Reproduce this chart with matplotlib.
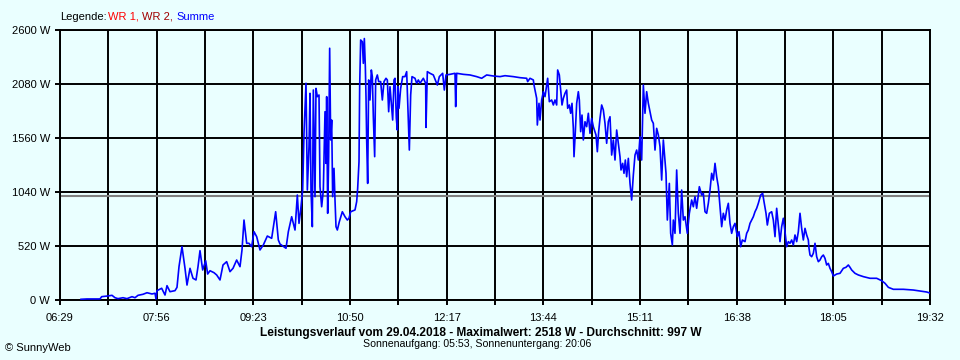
import matplotlib
matplotlib.use("Agg")
import matplotlib.pyplot as plt

# ---- data (time in minutes since midnight, power in W) ----
minutes = [
    407.9, 413.3, 425.0, 426.5, 432.2, 435.8, 438.5, 441.2, 445.7, 449.3,
    453.8, 456.5, 459.2, 463.7, 467.3, 471.8, 474.5, 475.4, 476.3, 480.5,
    483.5, 485.3, 488.0, 492.5, 494.3, 496.1, 498.8, 501.5, 503.3, 506.0,
    508.7, 511.4, 513.2, 515.0, 517.4, 520.1, 521.9, 524.0, 527.6, 530.0,
    533.0, 535.7, 539.0, 542.0, 544.7, 548.0, 551.0, 552.8, 554.6, 557.0,
    559.1, 561.5, 563.6, 566.0, 569.0, 572.0, 575.6, 579.5, 583.1, 585.5,
    587.0, 592.4, 594.5, 597.5, 600.5, 602.6, 604.1, 605.6, 607.4, 608.6,
    610.4, 611.6, 613.1, 614.0, 614.9, 616.1, 617.0, 618.5, 619.4, 620.6,
    622.1, 623.0, 624.5, 626.0, 627.5, 628.4, 629.0, 629.9, 630.8, 631.7,
    632.6, 633.5, 634.4, 635.6, 636.5, 637.4, 638.6, 640.4, 643.1, 645.5,
    647.6, 649.1, 650.6, 654.5, 656.0, 656.9, 658.1, 658.7, 659.6, 661.1,
    662.0, 662.9, 663.8, 664.4, 665.0, 665.9, 666.8, 668.0, 669.2, 670.1,
    671.0, 672.2, 673.1, 674.6, 675.8, 677.6, 679.1, 680.6, 682.4, 683.6,
    684.8, 686.0, 687.5, 688.4, 689.6, 690.5, 691.7, 692.6, 693.2, 694.1,
    695.6, 697.4, 699.5, 701.0, 702.5, 703.4, 704.6, 705.8, 708.5, 710.0,
    711.5, 713.0, 716.0, 718.1, 718.4, 719.6, 722.0, 725.0, 728.6, 730.4,
    733.4, 734.9, 736.4, 740.0, 744.5, 745.1, 746.0, 752.0, 758.0, 764.0,
    768.5, 773.0, 779.0, 785.0, 789.5, 797.0, 803.0, 809.0, 809.9, 812.0,
    815.0, 815.6, 816.5, 818.0, 818.6, 820.1, 821.0, 822.5, 824.0, 825.5,
    827.0, 827.9, 829.4, 831.5, 833.0, 834.5, 836.0, 836.9, 838.4, 839.6,
    840.8, 842.0, 843.5, 845.0, 845.9, 847.4, 848.6, 849.8, 851.0, 851.6,
    852.8, 854.0, 855.5, 856.4, 857.6, 858.8, 860.0, 861.5, 863.0, 864.5,
    866.0, 867.5, 869.0, 871.4, 872.6, 873.8, 875.0, 876.5, 878.0, 879.5,
    881.0, 882.5, 884.0, 885.5, 887.0, 888.5, 890.0, 891.5, 893.0, 893.9,
    895.4, 896.6, 897.8, 899.0, 900.5, 902.0, 903.5, 905.0, 906.5, 908.0,
    909.5, 911.0, 912.5, 914.0, 915.5, 917.0, 918.5, 920.0, 921.5, 923.0,
    924.5, 926.0, 927.5, 929.0, 930.5, 932.0, 933.5, 934.4, 935.6, 937.4,
    938.6, 940.1, 941.0, 942.5, 944.0, 945.5, 947.0, 948.5, 950.0, 951.5,
    953.6, 955.4, 957.5, 959.0, 960.5, 962.0, 964.4, 966.5, 968.0, 969.5,
    971.0, 972.5, 974.0, 975.5, 977.0, 978.5, 980.0, 981.5, 983.0, 984.5,
    986.0, 987.5, 989.0, 990.5, 992.0, 993.5, 995.0, 996.5, 998.6, 1000.1,
    1001.6, 1003.1, 1005.5, 1007.0, 1008.5, 1010.0, 1011.5, 1013.0, 1014.5, 1016.0,
    1017.5, 1019.6, 1021.4, 1022.6, 1024.4, 1025.6, 1027.4, 1029.5, 1031.0, 1032.5,
    1034.0, 1035.5, 1037.0, 1038.5, 1040.0, 1041.5, 1043.0, 1044.5, 1046.0, 1047.5,
    1049.0, 1050.5, 1052.0, 1053.5, 1055.0, 1056.5, 1058.0, 1059.5, 1061.0, 1062.5,
    1063.1, 1064.0, 1065.5, 1067.0, 1068.5, 1070.0, 1071.5, 1073.0, 1074.5, 1076.0,
    1077.5, 1079.0, 1080.5, 1082.0, 1083.5, 1085.0, 1088.0, 1091.0, 1094.0, 1096.4,
    1098.5, 1100.0, 1101.5, 1104.5, 1107.5, 1112.0, 1118.0, 1124.0, 1128.5, 1131.5,
    1134.5, 1139.0, 1148.0, 1157.0, 1163.0, 1169.0, 1172.0,
]
watts = [
    7, 10, 10, 32, 39, 45, 22, 13, 22, 13,
    32, 22, 45, 55, 70, 58, 65, 10, 90, 113,
    48, 138, 80, 90, 122, 321, 513, 305, 144, 305,
    209, 193, 321, 475, 289, 378, 250, 282, 263, 241,
    193, 337, 369, 273, 305, 385, 321, 482, 770, 546,
    546, 513, 658, 610, 482, 530, 616, 594, 850, 578,
    539, 498, 658, 802, 674, 1011, 738, 867, 1059, 1605,
    2087, 1059, 1477, 1990, 1059, 706, 2022, 995, 2038, 1958,
    1974, 1091, 898, 1059, 1813, 1316, 1958, 835, 1380, 2424,
    1541, 1733, 995, 1268, 963, 706, 674, 754, 850, 802,
    770, 787, 850, 867, 947, 1075, 1332, 2054, 2504, 2487,
    2279, 2518, 2247, 1958, 1541, 1123, 2119, 1926, 2215, 2151,
    1765, 1380, 2119, 2167, 2103, 2103, 1926, 2103, 2135, 2119,
    1813, 2054, 1846, 1733, 2119, 2135, 1749, 1637, 2054, 1846,
    2038, 2151, 2151, 2199, 1717, 1444, 1974, 2151, 2135, 2087,
    2119, 2087, 2135, 2087, 1662, 2199, 2183, 2167, 2070, 2151,
    2183, 2022, 2167, 2173, 2183, 1862, 2183, 2173, 2167, 2151,
    2135, 2167, 2157, 2151, 2160, 2151, 2141, 2135, 2103, 2135,
    2119, 2070, 2022, 1942, 1685, 1894, 1733, 1926, 2006, 1958,
    2070, 2135, 1910, 1926, 1878, 1926, 1878, 2215, 2167, 2022,
    1878, 1942, 1990, 2022, 1846, 1878, 1798, 1894, 1653, 1380,
    1621, 1894, 2006, 1926, 1621, 1781, 1541, 1717, 1669, 1798,
    1605, 1749, 1669, 1589, 1428, 1621, 1749, 1878, 1830, 1701,
    1509, 1717, 1765, 1396, 1541, 1348, 1637, 1509, 1380, 1252,
    1316, 1220, 1348, 1187, 1364, 1123, 963, 1204, 1396, 1444,
    1348, 1573, 1348, 2070, 1798, 2006, 1894, 1813, 1733, 1701,
    1444, 1653, 1589, 1477, 1155, 1541, 1348, 1220, 770, 1123,
    642, 530, 770, 642, 1252, 835, 642, 1059, 770, 802,
    642, 835, 963, 898, 995, 883, 1091, 1011, 1027, 850,
    835, 931, 1059, 1220, 1155, 1316, 1187, 1091, 898, 706,
    835, 770, 867, 931, 738, 642, 706, 738, 610, 658,
    513, 578, 562, 642, 674, 738, 770, 802, 850, 883,
    931, 1011, 1027, 947, 835, 722, 835, 850, 770, 610,
    883, 722, 562, 706, 787, 658, 513, 562, 546, 578,
    530, 626, 562, 658, 835, 690, 578, 690, 626, 578,
    498, 433, 417, 450, 546, 417, 369, 385, 417, 433,
    401, 337, 353, 305, 273, 231, 250, 257, 305, 315,
    337, 315, 289, 257, 241, 225, 209, 209, 186, 161,
    122, 103, 103, 96, 87, 77, 67,
]
average_w = 997
y_ticks = [0, 520, 1040, 1560, 2080, 2600]
y_labels = ["0 W", "520 W", "1040 W", "1560 W", "2080 W", "2600 W"]
x_labels = ["06:29", "07:56", "09:23", "10:50", "12:17",
            "13:44", "15:11", "16:38", "18:05", "19:32"]

title = "Leistungsverlauf vom 29.04.2018 - Maximalwert: 2518 W - Durchschnitt: 997 W"
subtitle = "Sonnenaufgang: 05:53, Sonnenuntergang: 20:06"


def to_min(s):
    h, m = s.split(":")
    return int(h) * 60 + int(m)


BG = "#EAFFFF"
FONT = "Liberation Sans"
plt.rcParams["font.family"] = [FONT, "DejaVu Sans"]

W, H = 960, 360
fig = plt.figure(figsize=(W / 100, H / 100), dpi=100, facecolor=BG)
ax = fig.add_axes([60 / W, 60 / H, 870 / W, 270 / H], facecolor=BG)

xmaj = [to_min(s) for s in x_labels]
ax.set_xlim(xmaj[0], xmaj[-1])
ax.set_ylim(0, 2600)
ax.set_xticks(xmaj)
ax.set_xticklabels(x_labels)
ax.set_xticks([(a + b) / 2 for a, b in zip(xmaj[:-1], xmaj[1:])], minor=True)
ax.set_yticks(y_ticks)
ax.set_yticklabels(y_labels)

ax.grid(True, which="both", axis="x", color="black", lw=1.4, zorder=1)
ax.grid(True, which="major", axis="y", color="black", lw=1.4, zorder=1)
ax.set_axisbelow(True)
ax.axhline(average_w, color="#808080", lw=1.5, zorder=2)
ax.plot(minutes, watts, color="#0000FF", lw=1.2, zorder=3)

for s in ax.spines.values():
    s.set_color("black")
    s.set_linewidth(1.4)

ax.tick_params(axis="both", which="both", direction="out", length=3.6,
               width=1.4, color="black", labelsize=8, labelcolor="black")
ax.tick_params(axis="x", which="both", pad=5.5)
ax.tick_params(axis="y", which="both", pad=3.5)


def fy(y):
    return 1 - y / H


# legend line
fig.text(60 / W, fy(16.5), "Legende:", color="black", fontsize=8, va="center", ha="left")
fig.text(108 / W, fy(16.5), "WR 1,", color="#FF0000", fontsize=8, va="center", ha="left")
fig.text(141.5 / W, fy(16.5), "WR 2,", color="#A00000", fontsize=8, va="center", ha="left")
fig.text(176.5 / W, fy(16.5), "Summe", color="#0000FF", fontsize=8, va="center", ha="left")

fig.text(481 / W, fy(336), title, fontsize=8.6, fontweight="bold", ha="center", va="baseline")
fig.text(477 / W, fy(347), subtitle, fontsize=7.6, ha="center", va="baseline")
fig.text(5 / W, fy(351), "\u00a9 SunnyWeb", fontsize=8, ha="left", va="baseline")

fig.savefig("out.png", dpi=100, facecolor=BG)
